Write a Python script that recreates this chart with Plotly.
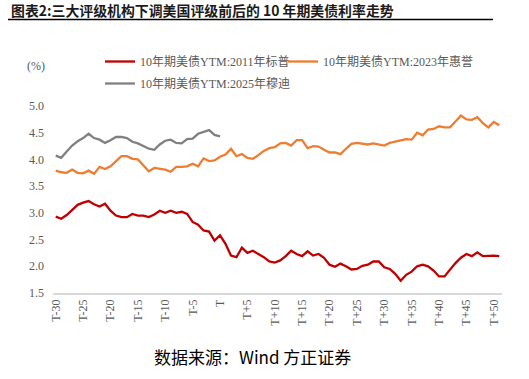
import plotly.graph_objects as go

# ---- data ----
offsets = list(range(-30, 52))  # T-30 ... T+51
tick_vals = [-30, -25, -20, -15, -10, -5, 0, 5, 10, 15, 20, 25, 30, 35, 40, 45, 50]
tick_labels = ["T-30", "T-25", "T-20", "T-15", "T-10", "T-5", "T", "T+5", "T+10",
               "T+15", "T+20", "T+25", "T+30", "T+35", "T+40", "T+45", "T+50"]
y_ticks = [1.5, 2.0, 2.5, 3.0, 3.5, 4.0, 4.5, 5.0]

name_2011 = "10年期美债YTM:2011年标普"
name_2023 = "10年期美债YTM:2023年惠誉"
name_2025 = "10年期美债YTM:2025年穆迪"

ytm_2011 = [2.93, 2.89, 2.96, 3.05, 3.15, 3.19, 3.22, 3.16, 3.12, 3.17,
            3.04, 2.95, 2.92, 2.92, 2.98, 2.95, 2.95, 2.92, 2.97, 3.04,
            3.00, 3.04, 3.00, 3.02, 2.98, 2.83, 2.78, 2.67, 2.65, 2.48,
            2.58, 2.42, 2.20, 2.17, 2.35, 2.25, 2.29, 2.23, 2.17, 2.09,
            2.07, 2.11, 2.19, 2.29, 2.23, 2.19, 2.28, 2.20, 2.23, 2.16,
            2.03, 1.99, 2.05, 2.00, 1.94, 1.95, 2.01, 2.03, 2.09, 2.09,
            1.98, 1.95, 1.86, 1.73, 1.84, 1.90, 2.00, 2.03, 2.00, 1.92,
            1.81, 1.81, 1.94, 2.06, 2.16, 2.23, 2.19, 2.26, 2.19, 2.20,
            2.20, 2.19]

ytm_2023 = [3.79, 3.76, 3.75, 3.81, 3.75, 3.74, 3.79, 3.73, 3.86, 3.82,
            3.87, 3.96, 4.06, 4.06, 4.01, 4.00, 3.88, 3.78, 3.84, 3.83,
            3.81, 3.77, 3.86, 3.86, 3.87, 3.92, 3.87, 4.02, 3.97, 3.98,
            4.05, 4.09, 4.20, 4.06, 4.10, 4.03, 4.01, 4.08, 4.16, 4.21,
            4.23, 4.30, 4.31, 4.26, 4.36, 4.36, 4.21, 4.25, 4.24, 4.18,
            4.13, 4.13, 4.10, 4.20, 4.29, 4.31, 4.29, 4.28, 4.30, 4.28,
            4.26, 4.31, 4.33, 4.36, 4.38, 4.37, 4.50, 4.45, 4.56, 4.57,
            4.62, 4.60, 4.60, 4.71, 4.82, 4.75, 4.74, 4.79, 4.68, 4.60,
            4.70, 4.64]

ytm_2025 = [4.07, 4.03, 4.15, 4.26, 4.34, 4.40, 4.48, 4.40, 4.37, 4.31,
            4.36, 4.42, 4.42, 4.40, 4.33, 4.30, 4.25, 4.20, 4.18, 4.28,
            4.35, 4.37, 4.31, 4.30, 4.38, 4.39, 4.48, 4.52, 4.55, 4.46,
            4.43]

# ---- layout helpers (pixel -> paper) ----
W, H = 529, 379
L, R, T, B = 53, 502, 106, 293


def px(x):
    return (x - L) / (R - L)


def py(y):
    return (B - y) / (B - T)


serif = "Liberation Serif, 'Noto Sans CJK SC', serif"
grey = "#595959"

fig = go.Figure()
fig.add_trace(go.Scatter(x=offsets[:len(ytm_2011)], y=ytm_2011, mode="lines",
                         name=name_2011, legend="legend", legendgroup="a",
                         line=dict(color="#C00000", width=2.3)))
fig.add_trace(go.Scatter(x=offsets[:len(ytm_2023)], y=ytm_2023, mode="lines",
                         name=name_2023, legend="legend2",
                         line=dict(color="#ED7D31", width=2.3)))
fig.add_trace(go.Scatter(x=offsets[:len(ytm_2025)], y=ytm_2025, mode="lines",
                         name=name_2025, legend="legend", legendgroup="b",
                         line=dict(color="#808080", width=2.3)))

legend_common = dict(orientation="v", xanchor="left", yanchor="top",
                     font=dict(family=serif, size=12, color=grey),
                     bgcolor="rgba(0,0,0,0)", itemwidth=30, tracegroupgap=3)

fig.update_layout(
    width=W, height=H,
    margin=dict(l=L, r=W - R, t=T, b=H - B, pad=0),
    paper_bgcolor="white", plot_bgcolor="white",
    showlegend=True,
    legend=dict(x=px(100), y=py(47), **legend_common),
    legend2=dict(x=px(283), y=py(47), **legend_common),
    xaxis=dict(range=[-30.5, 51.5], tickmode="array", tickvals=tick_vals,
               ticktext=tick_labels, tickangle=-90, showgrid=False, zeroline=False,
               showline=True, linecolor="#d9d9d9", linewidth=1.5, ticks="",
               tickfont=dict(family=serif, size=12, color=grey)),
    yaxis=dict(range=[1.5, 5.0], tickmode="array", tickvals=y_ticks, tickformat=".1f",
               showgrid=False, zeroline=False, showline=False, ticks="",
               ticklabelstandoff=8,
               tickfont=dict(family=serif, size=12, color=grey)),
    annotations=[
        dict(text="<b>图表2:三大评级机构下调美国评级前后的 10 年期美债利率走势</b>",
             xref="paper", yref="paper", x=px(9), y=py(10.5), xanchor="left",
             yanchor="middle", showarrow=False,
             font=dict(family="'Noto Sans CJK SC', sans-serif", size=13.9, color="#1a1a1a")),
        dict(text="(%)", xref="paper", yref="paper", x=px(36), y=py(66),
             xanchor="center", yanchor="middle", showarrow=False,
             font=dict(family=serif, size=12, color=grey)),
        dict(text="数据来源：Wind 方正证券", xref="paper", yref="paper", x=px(252),
             y=py(356), xanchor="center", yanchor="middle", showarrow=False,
             font=dict(family="'Noto Sans CJK SC', sans-serif", size=17, color="black")),
    ],
    shapes=[
        dict(type="line", xref="paper", yref="paper", x0=px(8), x1=px(493),
             y0=py(19.5), y1=py(19.5), line=dict(color="black", width=1.5)),
    ],
)

fig.write_html("out.html", config={"displayModeBar": False},
               post_script="document.body.style.margin='0';")
